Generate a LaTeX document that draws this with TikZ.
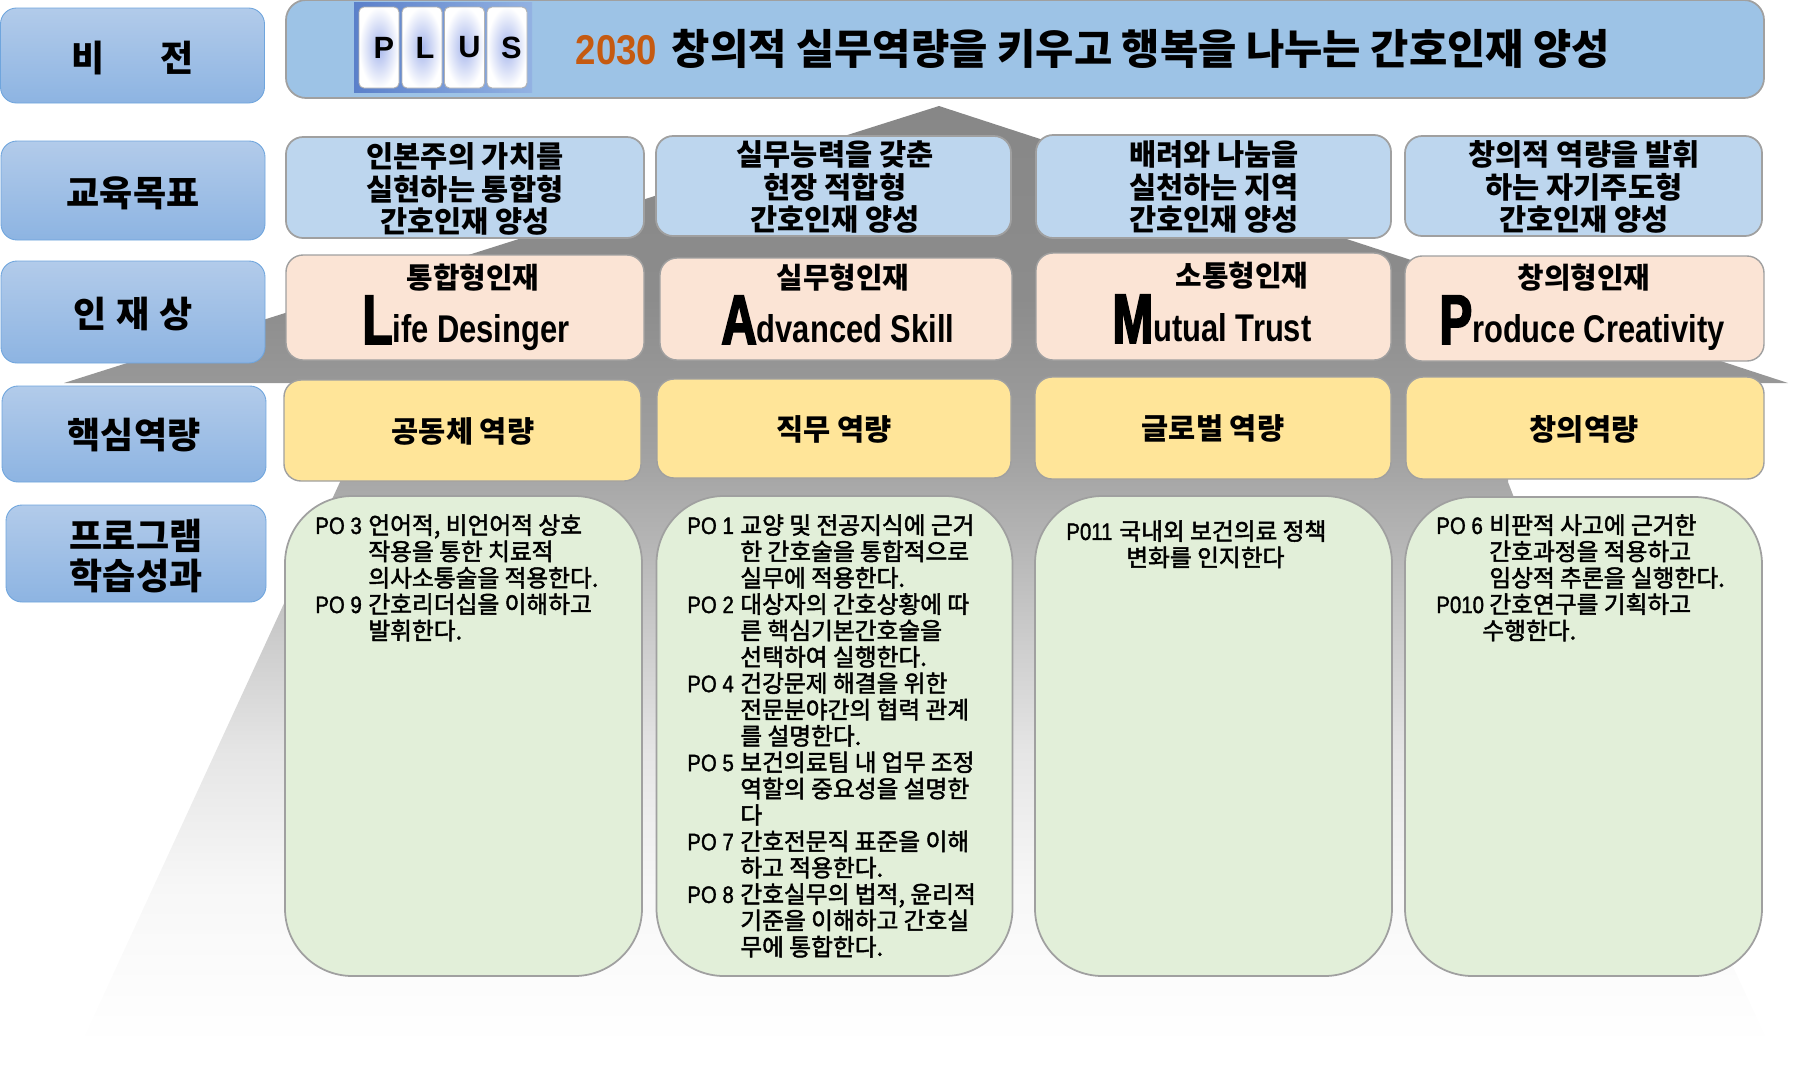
\documentclass[tikz,border=0pt]{standalone}
\usepackage{fontspec}
\newfontfamily\korfont{Noto Sans CJK KR}
\newfontfamily\pofont[FakeBold=2]{Noto Sans CJK KR}
\newfontfamily\latwide{Liberation Sans}
\newfontfamily\yearfont[FakeStretch=0.88]{Liberation Sans}
\newfontfamily\latmid[FakeStretch=0.8]{Liberation Sans}
\newfontfamily\latbig[FakeStretch=0.7,FakeBold=2.5]{Liberation Sans}
\newfontfamily\polat[FakeStretch=0.86,FakeBold=1.5]{Liberation Sans}

\definecolor{edgegray}{HTML}{A0A0A0}
\definecolor{labeltop}{HTML}{B2CBEA}
\definecolor{labelbot}{HTML}{8DB4E2}
\definecolor{labeledge}{HTML}{6FA5DD}
\definecolor{visionblue}{HTML}{9DC3E6}
\definecolor{goalblue}{HTML}{BDD6EE}
\definecolor{talentpink}{HTML}{FBE4D5}
\definecolor{coreyellow}{HTML}{FFE599}
\definecolor{pogreen}{HTML}{E2EFD9}
\definecolor{yearorange}{HTML}{C55A11}
\definecolor{plusleft}{HTML}{5B80CA}
\definecolor{plusright}{HTML}{93B2E2}
\definecolor{tileblue}{HTML}{A6B6EC}

\pgfdeclareverticalshading{houseshade}{100bp}{
  color(0bp)=(white); color(25bp)=(white); color(33.3bp)=(black!3);
  color(40.6bp)=(black!10); color(46.1bp)=(black!19); color(52.4bp)=(black!30);
  color(56.7bp)=(black!37); color(64.7bp)=(black!45); color(75bp)=(black!47);
  color(100bp)=(black!47)}

\newcommand{\polab}[1]{\makebox[1.06cm][l]{{\polat #1}}}
\newcommand{\poind}{\hspace*{1.06cm}}
\newcommand{\capletter}[1]{\raisebox{-0.04cm}{\latbig\bfseries\fontsize{40pt}{40pt}\selectfont #1}}

\tikzset{
  sz/.style 2 args={minimum width=#1*0.02cm, minimum height=#2*0.02cm, inner sep=0pt},
  labelbox/.style={rounded corners=0.32cm, draw=labeledge, line width=0.5pt,
    top color=labeltop, bottom color=labelbot},
  labeltext/.style={inner sep=0pt, align=center,
    font=\korfont\bfseries\fontsize{20.5pt}{23pt}\selectfont},
  visionbox/.style={rounded corners=0.4cm, draw=edgegray, line width=1pt, fill=visionblue},
  goalbox/.style={rounded corners=0.34cm, draw=edgegray, line width=1pt, fill=goalblue},
  talentbox/.style={rounded corners=0.34cm, draw=edgegray, line width=0.8pt, fill=talentpink},
  corebox/.style={rounded corners=0.34cm, draw=edgegray, line width=0.8pt, fill=coreyellow},
  pobox/.style={rounded corners=1.35cm, draw=edgegray, line width=1pt, fill=pogreen},
  goaltext/.style={inner sep=0pt, align=center, font=\korfont\fontsize{16.8pt}{18.6pt}\selectfont\bfseries},
  talenttext/.style={inner sep=0pt, font=\korfont\fontsize{16.4pt}{18pt}\selectfont\bfseries},
  coretext/.style={inner sep=0pt, font=\korfont\fontsize{16.8pt}{18pt}\selectfont\bfseries},
  skilltext/.style={inner sep=0pt, anchor=base west, font=\latmid\bfseries\fontsize{22pt}{24pt}\selectfont},
  potext/.style={inner sep=0pt, anchor=north west, align=left,
    font=\pofont\fontsize{13.5pt}{15pt}\selectfont},
  plustile/.style={sz={40}{81}, rounded corners=0.1cm, draw=black!30, line width=0.5pt,
    shading=radial, inner color=tileblue, outer color=white,
    font=\latwide\bfseries\fontsize{17.5pt}{18pt}\selectfont, text=black}
}

\begin{document}
\begin{tikzpicture}[x=0.02cm, y=-0.02cm]
  \useasboundingbox (0, 0) rectangle (1796, 1066);

  \shade[shading=houseshade]
    (939, 106) -- (1788, 383) -- (1508, 383) -- (1508, 482) -- (1513, 495)
    -- (1770, 1046) -- (80, 1046) -- (340, 482) -- (342, 470) -- (350, 383)
    -- (64, 383) -- cycle;

  \node[labelbox, sz={264}{95}] (labVision) at (132.5, 55.5) {};
  \node[labelbox, sz={264}{99}] (labGoal) at (133, 190.5) {};
  \node[labelbox, sz={264}{102}] (labTalent) at (133, 312) {};
  \node[labelbox, sz={264}{96}] (labCore) at (134, 434) {};
  \node[labelbox, sz={260}{97}] (labOutcome) at (136, 553.5) {};
  \node[labeltext] (labVisionText) at (132.5, 58) {비\hspace{1.12cm}전};
  \node[labeltext] (labGoalText) at (133, 193) {교육목표};
  \node[labeltext] (labTalentText) at (133, 314.5) {인\hspace{0.04cm} 재\hspace{0.04cm} 상};
  \node[labeltext] (labCoreText) at (134, 435) {핵심역량};
  \node[labeltext] (labOutcomeText) at (136, 556) {프로그램\\학습성과};

  \node[visionbox, sz={1478}{98}] (visionBar) at (1025, 49) {};
  \node[sz={178}{90}, left color=plusleft, right color=plusright] (plusBack) at (443, 47) {};
  \node[plustile] (tileP) at (379, 47.5) {\hspace{0.2cm}P};
  \node[plustile] (tileL) at (422, 47.5) {\hspace{0.12cm}L};
  \node[plustile] (tileU) at (464.5, 47.5) {\hspace{0.2cm}U};
  \node[plustile] (tileS) at (507, 47.5) {\hspace{0.18cm}S};
  \node[inner sep=0pt, font=\korfont\bfseries\fontsize{23.7pt}{25pt}\selectfont] (visionText)
    at (1093, 49) {\textcolor{yearorange}{\yearfont 2030}\hspace{0.1cm} 창의적 실무역량을 키우고 행복을 나누는 간호인재 양성};

  \node[goalbox, sz={358}{101}] (goalA) at (465, 187.5) {};
  \node[goalbox, sz={355}{100}] (goalB) at (833.5, 186) {};
  \node[goalbox, sz={355}{103}] (goalC) at (1213.5, 186.5) {};
  \node[goalbox, sz={357}{100}] (goalD) at (1583.5, 186) {};
  \node[goaltext] (goalAtext) at (465, 189) {인본주의 가치를\\실현하는 통합형\\간호인재 양성};
  \node[goaltext] (goalBtext) at (835, 187) {실무능력을 갖춘\\현장 적합형\\간호인재 양성};
  \node[goaltext] (goalCtext) at (1214, 187) {배려와 나눔을\\실천하는 지역\\간호인재 양성};
  \node[goaltext] (goalDtext) at (1584, 187) {창의적 역량을 발휘\\하는 자기주도형\\간호인재 양성};

  \node[talentbox, sz={358}{105}] (talentA) at (465, 307.5) {};
  \node[talentbox, sz={352}{102}] (talentB) at (836, 309) {};
  \node[talentbox, sz={355}{107}] (talentC) at (1213.5, 306.5) {};
  \node[talentbox, sz={359}{105}] (talentD) at (1584.5, 308.5) {};
  \node[talenttext] (talentAname) at (473, 278) {통합형인재};
  \node[talenttext] (talentBname) at (843, 278) {실무형인재};
  \node[talenttext] (talentCname) at (1242, 276) {소통형인재};
  \node[talenttext] (talentDname) at (1584, 278) {창의형인재};
  \node[skilltext] (talentAskill) at (362, 342) {\capletter{L}ife Desinger};
  \node[skilltext] (talentBskill) at (721, 342) {\capletter{A}dvanced Skill};
  \node[skilltext] (talentCskill) at (1112, 341) {\capletter{M}utual Trust};
  \node[skilltext] (talentDskill) at (1439, 342) {\capletter{P}roduce Creativity};

  \node[corebox, sz={357}{101}] (coreA) at (462.5, 430.5) {};
  \node[corebox, sz={354}{99}] (coreB) at (834, 428.5) {};
  \node[corebox, sz={356}{102}] (coreC) at (1213, 428) {};
  \node[corebox, sz={358}{102}] (coreD) at (1585, 428) {};
  \node[coretext] (coreAtext) at (463, 431) {공동체 역량};
  \node[coretext] (coreBtext) at (834, 429) {직무 역량};
  \node[coretext] (coreCtext) at (1213, 428) {글로벌 역량};
  \node[coretext] (coreDtext) at (1584, 429) {창의역량};

  \node[pobox, sz={357}{480}] (poA) at (463.5, 736) {};
  \node[pobox, sz={356}{480}] (poB) at (834.5, 736) {};
  \node[pobox, sz={357}{480}] (poC) at (1213.5, 736) {};
  \node[pobox, sz={357}{479}] (poD) at (1583.5, 736.5) {};

  \node[potext] (poAtext) at (315, 514) {%
    \polab{PO 3}언어적, 비언어적 상호\\
    \poind 작용을 통한  치료적\\
    \poind 의사소통술을 적용한다.\\
    \polab{PO 9}간호리더십을 이해하고\\
    \poind 발휘한다.};
  \node[potext] (poBtext) at (687, 514) {%
    \polab{PO 1}교양 및 전공지식에 근거\\
    \poind 한 간호술을  통합적으로\\
    \poind 실무에 적용한다.\\
    \polab{PO 2}대상자의 간호상황에 따\\
    \poind 른 핵심기본간호술을\\
    \poind 선택하여 실행한다.\\
    \polab{PO 4}건강문제 해결을 위한\\
    \poind 전문분야간의 협력 관계\\
    \poind 를 설명한다.\\
    \polab{PO 5}보건의료팀 내 업무 조정\\
    \poind 역할의 중요성을 설명한\\
    \poind 다\\
    \polab{PO 7}간호전문직 표준을 이해\\
    \poind 하고 적용한다.\\
    \polab{PO 8}간호실무의 법적, 윤리적\\
    \poind 기준을 이해하고 간호실\\
    \poind 무에 통합한다.};
  \node[potext] (poCtext) at (1066, 520) {%
    \polab{P011}국내외 보건의료 정책\\
    \hspace*{1.2cm}변화를 인지한다};
  \node[potext] (poDtext) at (1436, 514) {%
    \polab{PO 6}비판적 사고에  근거한\\
    \poind 간호과정을 적용하고\\
    \poind 임상적 추론을 실행한다.\\
    \polab{P010}간호연구를 기획하고\\
    \hspace*{0.92cm}수행한다.};
\end{tikzpicture}
\end{document}
